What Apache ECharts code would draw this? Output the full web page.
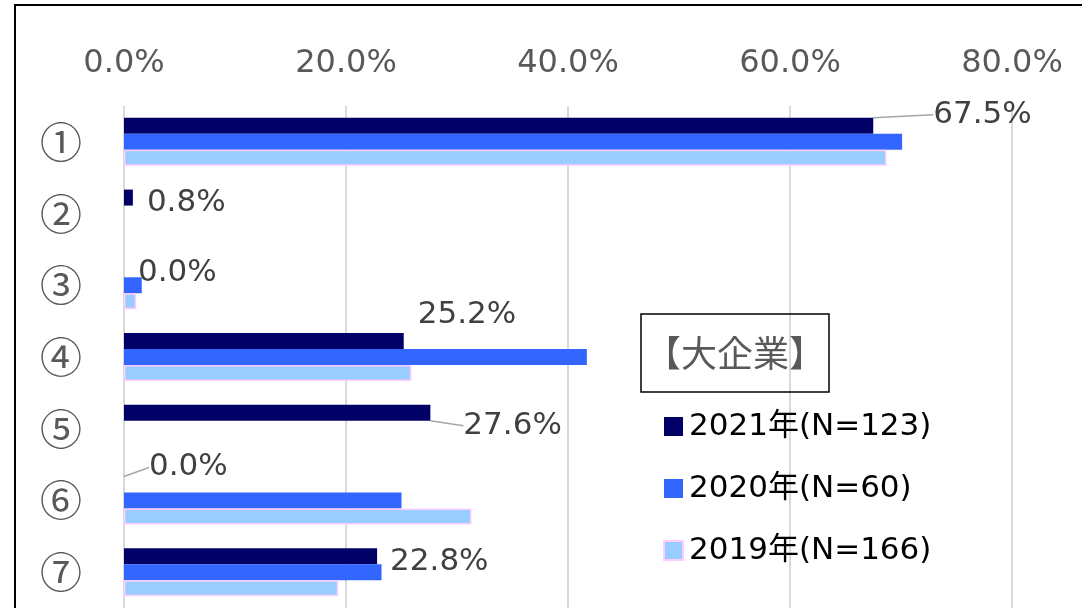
<!DOCTYPE html>
<html>
<head>
<meta charset="utf-8">
<script src="https://cdn.jsdelivr.net/npm/echarts@6/dist/echarts.min.js"></script>
<style>
  html, body { margin: 0; padding: 0; background: #fff; }
  #main { width: 1082px; height: 608px; }
</style>
</head>
<body>
<div id="main"></div>
<script>
// カテゴリと各年の値（%）
const categories = ['①', '②', '③', '④', '⑤', '⑥', '⑦']
const seriesNames = ['2021年(N=123)', '2020年(N=60)', '2019年(N=166)']
const values2021 = [67.5, 0.8, 0.0, 25.2, 27.6, 0.0, 22.8]
const values2020 = [70.1, null, 1.6, 41.7, null, 25.0, 23.2]
const values2019 = [68.7, null, 1.1, 25.9, null, 31.3, 19.3]
const xTicks = [0, 20, 40, 60, 80]

// 2021年ラベルの移動量とリーダー線
const labelShift = [[47, -11], [1, 5], [1, 4], [1, -26], [20, 13], [12, -17], [0, 6]]
const leaderOn = [true, false, false, false, true, true, false]

const chart = echarts.init(document.getElementById('main'))
const font = "'DejaVu Sans', 'Noto Sans CJK JP', sans-serif"

const data2021 = values2021.map((v, i) => ({
  value: v,
  labelLine: { show: leaderOn[i] }
}))

const option = {
  animation: false,
  title: {
    text: '【大企業】',
    left: 641,
    top: 314,
    padding: [21, 4],
    borderColor: '#000',
    borderWidth: 1.5,
    textStyle: {
      fontSize: 36,
      fontWeight: 'normal',
      color: '#595959',
      fontFamily: "'Noto Sans CJK JP', sans-serif"
    }
  },
  legend: {
    orient: 'vertical',
    left: 658,
    top: 406,
    icon: 'rect',
    itemWidth: 19,
    itemHeight: 19,
    itemGap: 31,
    data: seriesNames,
    textStyle: {
      fontSize: 31,
      lineHeight: 31,
      color: '#000',
      fontFamily: font,
      padding: [0, 0, 0, 1]
    }
  },
  graphic: [
    {
      type: 'rect',
      shape: { x: 15, y: 5, width: 1200, height: 800 },
      style: { fill: 'none', stroke: '#000', lineWidth: 2 },
      silent: true
    }
  ],
  grid: { left: 124, right: 70, top: 106, bottom: 0 },
  xAxis: {
    type: 'value',
    position: 'top',
    min: 0,
    max: 80,
    interval: 20,
    axisLine: { show: false },
    axisTick: { show: false },
    splitLine: { lineStyle: { color: '#d9d9d9', width: 2 } },
    axisLabel: {
      margin: 26,
      fontSize: 32,
      color: '#595959',
      fontFamily: font,
      formatter: v => (xTicks.includes(v) ? v.toFixed(1) + '%' : '')
    }
  },
  yAxis: {
    type: 'category',
    inverse: true,
    data: categories,
    axisLine: { show: false },
    axisTick: { show: false },
    axisLabel: {
      margin: 42,
      fontSize: 42,
      color: '#595959',
      fontFamily: "'Noto Sans CJK JP', sans-serif"
    }
  },
  series: [
    {
      name: seriesNames[0],
      type: 'bar',
      data: data2021,
      barWidth: 16,
      barGap: '0%',
      itemStyle: { color: '#000066' },
      label: {
        show: true,
        position: 'right',
        distance: 5,
        fontSize: 31,
        color: '#404040',
        fontFamily: font,
        padding: [0, 0, 0, 8],
        formatter: p => p.value.toFixed(1) + '%'
      },
      labelLine: { lineStyle: { color: '#a6a6a6', width: 1.5 } },
      labelLayout: p => ({ dx: labelShift[p.dataIndex][0], dy: labelShift[p.dataIndex][1] })
    },
    {
      name: seriesNames[1],
      type: 'bar',
      data: values2020,
      barWidth: 16,
      barGap: '0%',
      itemStyle: { color: '#3366ff' }
    },
    {
      name: seriesNames[2],
      type: 'bar',
      data: values2019,
      barWidth: 16,
      barGap: '0%',
      itemStyle: { color: '#99ccff', borderColor: '#ffccff', borderWidth: 1.5 }
    }
  ]
}

chart.setOption(option)
</script>
</body>
</html>
